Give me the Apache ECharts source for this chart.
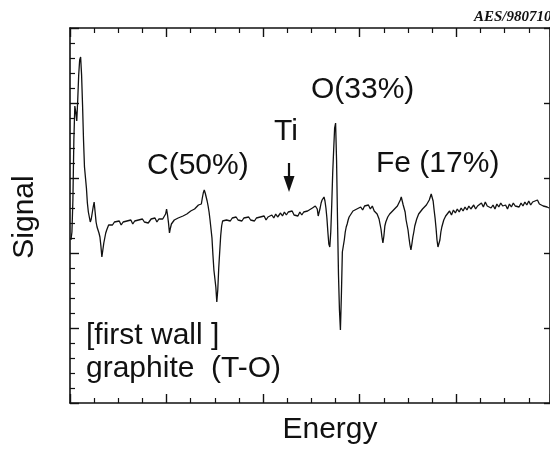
<!DOCTYPE html>
<html>
<head>
<meta charset="utf-8">
<script src="https://cdn.jsdelivr.net/npm/echarts@6/dist/echarts.min.js"></script>
<style>
  html, body { margin: 0; padding: 0; background: #fff; }
  #chart { width: 550px; height: 450px; }
</style>
</head>
<body>
<div id="chart"></div>
<script>
  // Energy (arbitrary units, 100 per major tick) and signal
  var energy = [
    1, 2, 3, 4, 5, 6, 7, 8, 9, 10, 11, 12, 13, 14, 15, 17, 18, 19, 21, 22,
    23, 24, 25, 26, 27, 28, 29, 30, 31, 32, 33, 34, 35, 36, 37, 38, 39, 40, 41, 42,
    44, 46, 48, 51, 53, 55, 57, 59, 61, 63, 65, 67, 69, 71, 73, 75, 77, 79, 81, 84,
    86, 88, 90, 92, 94, 96, 98, 99, 100, 101, 102, 103, 104, 105, 106, 108, 110, 112, 114, 117,
    119, 121, 123, 125, 127, 129, 131, 133, 135, 136, 137, 138, 139, 140, 141, 142, 143, 144, 145, 146,
    147, 148, 149, 151, 152, 153, 154, 155, 156, 157, 158, 160, 162, 164, 166, 168, 170, 172, 174, 176,
    178, 180, 182, 185, 187, 189, 191, 193, 195, 197, 199, 201, 203, 205, 207, 209, 211, 213, 215, 218,
    220, 222, 224, 226, 228, 230, 232, 234, 236, 238, 240, 242, 244, 246, 248, 251, 253, 254, 255, 256,
    257, 258, 259, 260, 261, 262, 263, 264, 265, 266, 267, 268, 269, 270, 271, 272, 273, 274, 275, 276,
    277, 278, 279, 280, 281, 282, 284, 285, 286, 287, 288, 289, 291, 293, 295, 297, 299, 301, 303, 305,
    307, 309, 311, 313, 315, 318, 320, 321, 322, 323, 324, 325, 326, 327, 329, 331, 333, 335, 337, 339,
    341, 342, 343, 344, 345, 346, 347, 348, 350, 351, 352, 353, 354, 355, 356, 357, 359, 361, 363, 365,
    367, 369, 371, 372, 373, 374, 375, 376, 377, 378, 379, 380, 381, 383, 384, 385, 387, 389, 391, 393,
    395, 397, 399, 401, 403, 405, 407, 409, 411, 413, 415, 418, 420, 422, 424, 426, 428, 430, 432, 434,
    436, 438, 440, 442, 444, 446, 448, 451, 453, 455, 457, 459, 461, 463, 465, 467, 469, 471, 473, 475,
    477, 479, 481, 484, 486, 488, 490, 492, 494, 496
  ];
  var signal = [
    326, 342, 406, 526, 594, 582, 564, 606, 656, 686, 692, 656, 596, 526, 472, 430, 400, 382, 362, 368,
    380, 392, 402, 382, 362, 352, 348, 340, 332, 314, 292, 306, 320, 330, 340, 346, 350, 356, 354, 360,
    356, 362, 358, 364, 356, 362, 358, 364, 360, 366, 358, 364, 360, 366, 362, 368, 362, 366, 360, 368,
    364, 370, 362, 368, 364, 368, 364, 378, 388, 376, 360, 340, 350, 358, 362, 366, 364, 370, 368, 374,
    370, 378, 376, 384, 382, 388, 390, 396, 400, 398, 410, 420, 426, 420, 412, 404, 394, 382, 366, 348,
    330, 296, 266, 232, 202, 226, 270, 302, 334, 354, 364, 368, 366, 370, 364, 370, 366, 372, 366, 370,
    364, 370, 366, 372, 366, 370, 364, 370, 366, 372, 368, 374, 366, 372, 368, 376, 370, 378, 372, 380,
    374, 382, 376, 382, 378, 384, 376, 380, 374, 382, 376, 382, 378, 384, 380, 390, 386, 394, 396, 388,
    374, 378, 390, 400, 406, 408, 412, 404, 390, 370, 342, 318, 312, 342, 396, 460, 506, 550, 560, 486,
    366, 256, 186, 146, 216, 302, 326, 342, 352, 358, 366, 372, 376, 384, 380, 388, 384, 392, 386, 394,
    390, 396, 388, 394, 384, 378, 368, 358, 348, 332, 320, 334, 354, 362, 372, 378, 380, 386, 384, 394,
    396, 406, 412, 404, 396, 392, 382, 366, 346, 330, 316, 306, 318, 332, 342, 354, 368, 378, 382, 388,
    386, 396, 400, 406, 412, 418, 420, 404, 386, 370, 350, 326, 312, 326, 342, 352, 366, 374, 378, 384,
    376, 386, 380, 388, 382, 390, 384, 392, 386, 394, 388, 396, 388, 394, 390, 400, 392, 402, 394, 398,
    390, 396, 388, 398, 392, 400, 394, 396, 388, 398, 392, 400, 394, 396, 392, 400, 394, 402, 396, 404,
    396, 402, 398, 406, 398, 402, 394, 396, 392, 390
  ];
  var energyRange = [0, 497];
  var signalRange = [0, 750];
  var labels = [
    { text: 'C(50%)', x: 147, y: 166 },
    { text: 'O(33%)', x: 311, y: 90 },
    { text: 'Ti', x: 274, y: 132 },
    { text: 'Fe (17%)', x: 376, y: 164 },
    { text: '[first wall ]', x: 86, y: 336 },
    { text: 'graphite  (T-O)', x: 86, y: 369 }
  ];

  var trace = energy.map(function(e, i) { return [e, signal[i]]; });

  var font = '"Liberation Sans", Arial, Helvetica, sans-serif';
  var black = '#111';

  function frameAxis(pos, ticks, minor) {
    var horiz = pos === 'top' || pos === 'bottom';
    return {
      type: 'value',
      position: pos,
      min: horiz ? energyRange[0] : signalRange[0],
      max: horiz ? energyRange[1] : signalRange[1],
      interval: horiz ? 100 : 150,
      axisLine: { show: true, onZero: false, lineStyle: { color: black, width: 1.6 } },
      axisTick: { show: ticks, inside: true, length: pos === 'right' ? 6 : 9, lineStyle: { color: black, width: 1.4 } },
      minorTick: { show: minor, splitNumber: horiz ? 4 : 5, length: 5, lineStyle: { color: black, width: 1.2 } },
      axisLabel: { show: false },
      splitLine: { show: false }
    };
  }

  var textEls = labels.map(function(l) {
    return {
      type: 'text',
      style: { text: l.text, x: l.x, y: l.y, font: '30px ' + font, fill: black, textAlign: 'left', textVerticalAlign: 'middle' }
    };
  });

  var chart = echarts.init(document.getElementById('chart'), null, { renderer: 'canvas' });
  chart.setOption({
    backgroundColor: '#fff',
    animation: false,
    grid: { left: 70, top: 28, width: 482, height: 375 },
    xAxis: [frameAxis('bottom', true, true), frameAxis('top', true, true)],
    yAxis: [frameAxis('left', true, true), frameAxis('right', true, false)],
    series: [{
      type: 'line',
      data: trace,
      showSymbol: false,
      symbol: 'none',
      lineStyle: { color: black, width: 1.3 }
    }],
    graphic: textEls.concat([
      {
        type: 'text',
        style: { text: 'Energy', x: 330, y: 430, font: '30px ' + font, fill: black, textAlign: 'center', textVerticalAlign: 'middle' }
      },
      {
        type: 'text',
        x: 25, y: 217, rotation: Math.PI / 2,
        style: { text: 'Signal', x: 0, y: 0, font: '30px ' + font, fill: black, textAlign: 'center', textVerticalAlign: 'middle' }
      },
      {
        type: 'text',
        style: { text: 'AES/980710', x: 474, y: 17, font: 'italic bold 15px "Liberation Serif", "Times New Roman", serif', fill: black, textAlign: 'left', textVerticalAlign: 'middle' }
      },
      // Ti arrow
      {
        type: 'line',
        shape: { x1: 289, y1: 163, x2: 289, y2: 182 },
        style: { stroke: black, lineWidth: 2.2 }
      },
      {
        type: 'polygon',
        shape: { points: [[283.5, 176], [294.5, 176], [289, 192]] },
        style: { fill: black }
      }
    ])
  });
</script>
</body>
</html>
